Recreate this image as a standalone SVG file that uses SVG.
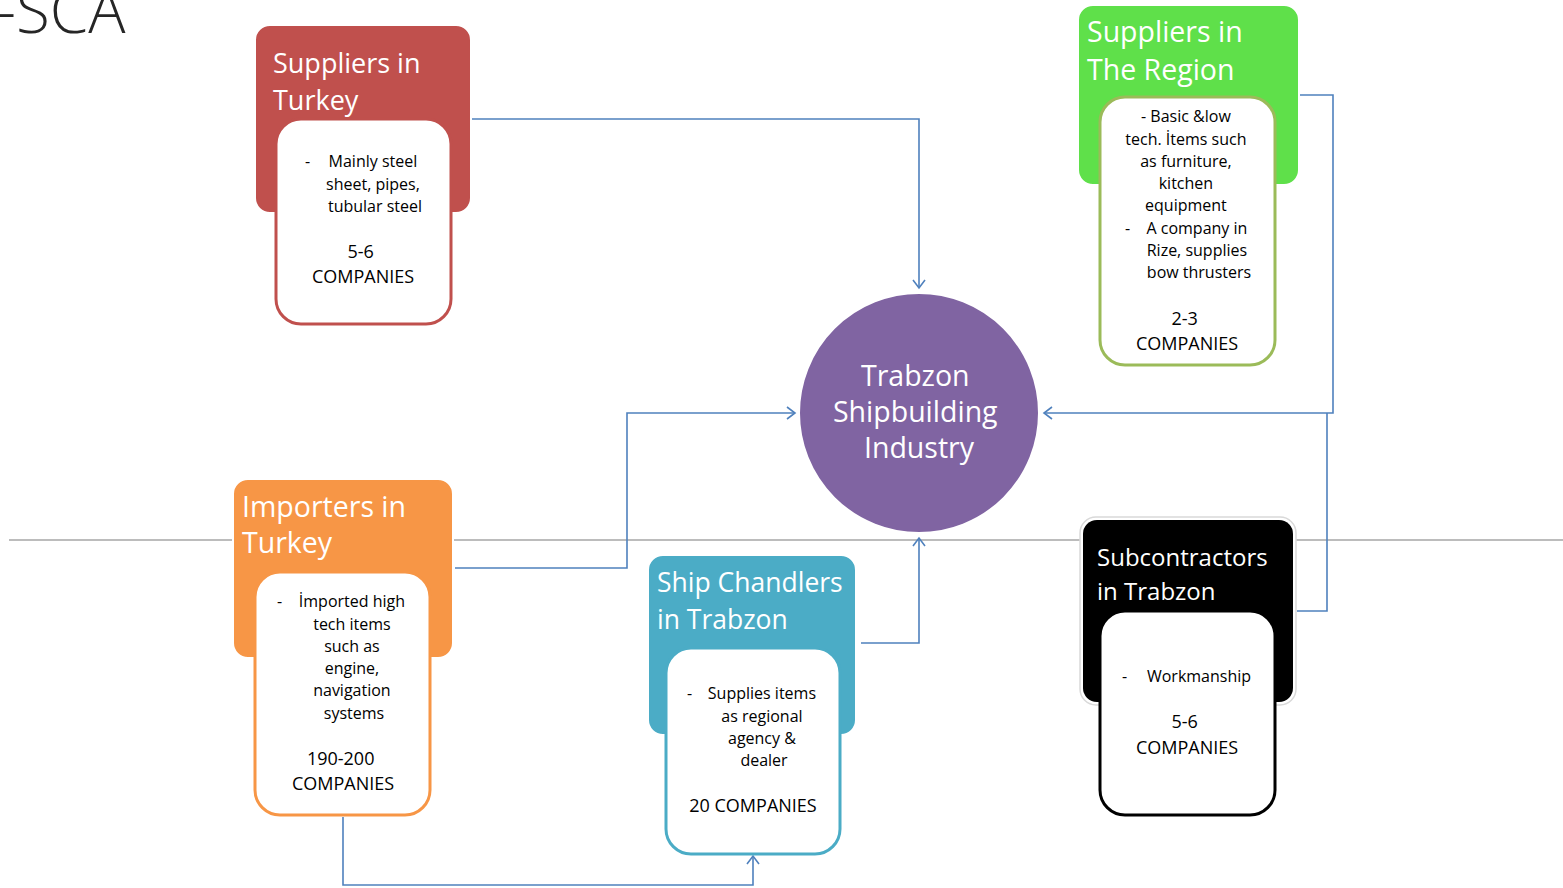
<svg xmlns="http://www.w3.org/2000/svg" width="1563" height="888" viewBox="0 0 1563 888">
  <style>
    .title { font-family: "Open Sans", "Liberation Sans", sans-serif; fill: #ffffff; }
    .body { font-family: "Open Sans", "Liberation Sans", sans-serif; font-size: 16px; fill: #000000; }
    .count { font-family: "Open Sans", "Liberation Sans", sans-serif; font-size: 18px; fill: #000000; text-anchor: middle; }
    .mid { text-anchor: middle; }
    .card { fill: #ffffff; stroke-width: 3; }
    .link { fill: none; stroke: #4F81BD; stroke-width: 1.6; }
  </style>
  <defs>
    <marker id="arrow" markerUnits="userSpaceOnUse" markerWidth="14" markerHeight="14" refX="11" refY="7" orient="auto">
      <path d="M3,1 L11,7 L3,13" fill="none" stroke="#4F81BD" stroke-width="1.6"/>
    </marker>
  </defs>

  <rect width="1563" height="888" fill="#ffffff"/>

  <!-- heading fragment -->
  <text x="-4" y="33" font-family="'Open Sans', 'Liberation Sans', sans-serif" font-weight="300" font-size="62" fill="#262626">-SCA</text>

  <!-- horizontal divider -->
  <line x1="9" y1="540" x2="1563" y2="540" stroke="#A6A6A6" stroke-width="1.5"/>

  <!-- connectors -->
  <g id="connectors">
    <polyline class="link" points="471,119 919,119 919,288" marker-end="url(#arrow)"/>
    <polyline class="link" points="1299,95 1333,95 1333,413 1044,413" marker-end="url(#arrow)"/>
    <polyline class="link" points="1297,611 1327,611 1327,413"/>
    <polyline class="link" points="455,568 627,568 627,413 795,413" marker-end="url(#arrow)"/>
    <polyline class="link" points="861,643 919,643 919,538" marker-end="url(#arrow)"/>
    <polyline class="link" points="343,817 343,885 753,885 753,856" marker-end="url(#arrow)"/>
  </g>

  <!-- central hub -->
  <g id="hub">
    <circle cx="919" cy="413" r="120" fill="#8064A2" stroke="#ffffff" stroke-width="2"/>
    <text class="title mid" font-size="28.5">
      <tspan x="919" y="386">Trabzon</tspan>
      <tspan x="919" y="422">Shipbuilding</tspan>
      <tspan x="919" y="458">Industry</tspan>
    </text>
  </g>

  <!-- Suppliers in Turkey -->
  <g id="suppliers-turkey">
    <rect x="255" y="25" width="216" height="188" rx="15" fill="#C0504D" stroke="#ffffff" stroke-width="2"/>
    <text class="title" font-size="27">
      <tspan x="273" y="73">Suppliers in</tspan>
      <tspan x="273" y="110">Turkey</tspan>
    </text>
    <rect class="card" x="276" y="119" width="175" height="205" rx="25" stroke="#C0504D"/>
    <text class="body">
      <tspan x="305" y="167">-</tspan>
      <tspan x="375" y="167" class="mid">Mainly steel</tspan>
      <tspan x="375" y="190" class="mid">sheet, pipes,</tspan>
      <tspan x="375" y="212" class="mid">tubular steel</tspan>
    </text>
    <text class="count">
      <tspan x="363" y="258">5-6</tspan>
      <tspan x="363" y="283">COMPANIES</tspan>
    </text>
  </g>

  <!-- Suppliers in The Region -->
  <g id="suppliers-region">
    <rect x="1078" y="5" width="221" height="180" rx="15" fill="#5FE04A" stroke="#ffffff" stroke-width="2"/>
    <text class="title" font-size="28.5">
      <tspan x="1087" y="42">Suppliers in</tspan>
      <tspan x="1087" y="80">The Region</tspan>
    </text>
    <rect class="card" x="1100" y="97" width="175" height="268" rx="25" stroke="#9BBB59"/>
    <text class="body mid">
      <tspan x="1188" y="122">- Basic &amp;low</tspan>
      <tspan x="1188" y="145">tech. İtems such</tspan>
      <tspan x="1188" y="167">as furniture,</tspan>
      <tspan x="1188" y="189">kitchen</tspan>
      <tspan x="1188" y="211">equipment</tspan>
      <tspan x="1199" y="234">A company in</tspan>
      <tspan x="1199" y="256">Rize, supplies</tspan>
      <tspan x="1199" y="278">bow thrusters</tspan>
    </text>
    <text class="body" x="1125" y="234">-</text>
    <text class="count">
      <tspan x="1187" y="325">2-3</tspan>
      <tspan x="1187" y="350">COMPANIES</tspan>
    </text>
  </g>

  <!-- Importers in Turkey -->
  <g id="importers-turkey">
    <rect x="233" y="479" width="220" height="179" rx="15" fill="#F79646" stroke="#ffffff" stroke-width="2"/>
    <text class="title" font-size="28.5">
      <tspan x="242" y="517">Importers in</tspan>
      <tspan x="242" y="553">Turkey</tspan>
    </text>
    <rect class="card" x="255" y="572" width="175" height="243" rx="25" stroke="#F79646"/>
    <text class="body mid">
      <tspan x="354" y="607">İmported high</tspan>
      <tspan x="354" y="630">tech items</tspan>
      <tspan x="354" y="652">such as</tspan>
      <tspan x="354" y="674">engine,</tspan>
      <tspan x="354" y="696">navigation</tspan>
      <tspan x="354" y="719">systems</tspan>
    </text>
    <text class="body" x="277" y="607">-</text>
    <text class="count">
      <tspan x="343" y="765">190-200</tspan>
      <tspan x="343" y="790">COMPANIES</tspan>
    </text>
  </g>

  <!-- Ship Chandlers in Trabzon -->
  <g id="ship-chandlers">
    <rect x="648" y="555" width="208" height="180" rx="15" fill="#4BACC6" stroke="#ffffff" stroke-width="2"/>
    <text class="title" font-size="26.5">
      <tspan x="657" y="592">Ship Chandlers</tspan>
      <tspan x="657" y="629">in Trabzon</tspan>
    </text>
    <rect class="card" x="666" y="648" width="174" height="206" rx="25" stroke="#4BACC6"/>
    <text class="body mid">
      <tspan x="764" y="699">Supplies items</tspan>
      <tspan x="764" y="722">as regional</tspan>
      <tspan x="764" y="744">agency &amp;</tspan>
      <tspan x="764" y="766">dealer</tspan>
    </text>
    <text class="body" x="687" y="699">-</text>
    <text class="count" x="753" y="812">20 COMPANIES</text>
  </g>

  <!-- Subcontractors in Trabzon -->
  <g id="subcontractors">
    <rect x="1080" y="517" width="216" height="188" rx="16" fill="#ffffff" stroke="#D9D9D9" stroke-width="1.5"/>
    <rect x="1083" y="520" width="210" height="182" rx="14" fill="#000000"/>
    <text class="title" font-size="24">
      <tspan x="1097" y="566">Subcontractors</tspan>
      <tspan x="1097" y="600">in Trabzon</tspan>
    </text>
    <rect class="card" x="1100" y="611" width="175" height="204" rx="25" stroke="#000000"/>
    <text class="body" x="1122" y="682">-</text>
    <text class="body mid" x="1199" y="682">Workmanship</text>
    <text class="count">
      <tspan x="1187" y="728">5-6</tspan>
      <tspan x="1187" y="754">COMPANIES</tspan>
    </text>
  </g>
</svg>
